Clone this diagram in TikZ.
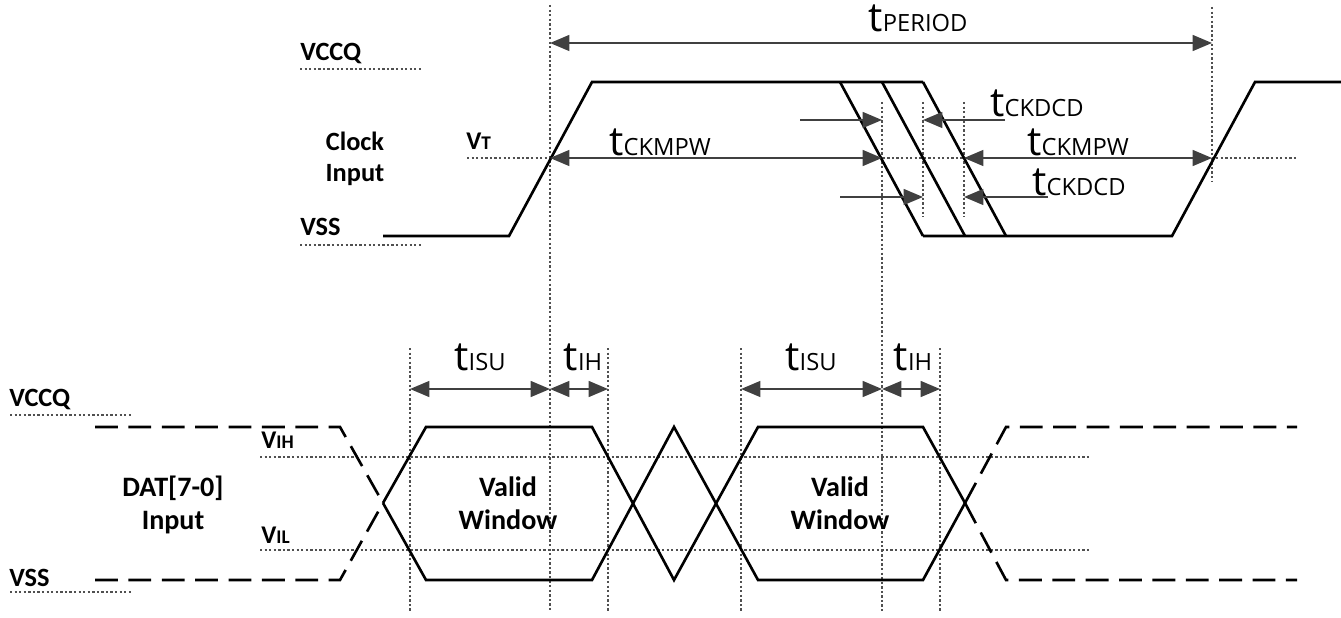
\documentclass[tikz,border=0pt]{standalone}
\usepackage{fontspec}
\setmainfont{Carlito}
\newfontfamily\tfont{Open Sans}
\usetikzlibrary{arrows.meta}

\definecolor{dimgray}{HTML}{404040}
\definecolor{guidegray}{HTML}{505050}

\newcommand{\tsub}[1]{{\tfont\fontsize{23}{23}\selectfont t\fontsize{13.5}{13.5}\selectfont #1}}
\newcommand{\vsub}[1]{{\bfseries\fontsize{14.5}{14.5}\selectfont V\fontsize{11}{11}\selectfont #1}}

\tikzset{
  sig/.style={line width=1.5pt},
  sigdash/.style={sig, dash pattern=on 13pt off 6pt},
  guide/.style={guidegray, line width=0.7pt, dash pattern=on 1.3pt off 1.3pt},
  dimarrow/.style={dimgray, line width=1.1pt, >={Triangle[length=11pt,width=9pt]}},
  lvl/.style={font=\bfseries\fontsize{15}{15}\selectfont, inner sep=0pt},
  tlbl/.style={inner sep=0pt}
}

\begin{document}
\begin{tikzpicture}[x=0.02cm,y=-0.02cm]
      \useasboundingbox (0,0) rectangle (1341,618);

      % guide lines
      \draw[guide] (300,69) -- (422,69);
      \draw[guide] (300,245) -- (422,245);
      \draw[guide] (467,158) -- (1298,158);
      \draw[guide] (10,415) -- (133,415);
      \draw[guide] (10,592) -- (133,592);
      \draw[guide] (260,457) -- (1090,457);
      \draw[guide] (260,550) -- (1090,550);
      \draw[guide] (550,5) -- (550,612);
      \draw[guide] (882,102) -- (882,612);
      \draw[guide] (1212,7) -- (1212,182);
      \foreach \x in {923,964} \draw[guide] (\x,102) -- (\x,217);
      \foreach \x in {410,608,741,940} \draw[guide] (\x,348) -- (\x,612);

      % clock input
      \draw[sig] (383,236) -- (509,236) -- (592,82) -- (923,82);
      \foreach \x in {840,882,923} \draw[sig] (\x,82) -- ++(83,154);
      \draw[sig] (923,236) -- (1172,236) -- (1255,82) -- (1341,82);

      % data input
      \draw[sigdash] (95,427) -- (340,427) -- (383,503);
      \draw[sigdash] (95,580) -- (340,580) -- (383,503);
      \draw[sig] (383,503) -- (426,427) -- (592,427) -- (674,580) -- (758,427) -- (923,427) -- (965,503);
      \draw[sig] (383,503) -- (426,580) -- (592,580) -- (674,427) -- (758,580) -- (923,580) -- (965,503);
      \draw[sigdash] (965,503) -- (1006,427) -- (1297,427);
      \draw[sigdash] (965,503) -- (1006,580) -- (1297,580);

      % arrow ends
      \coordinate (per0) at (550,43);
      \coordinate (per1) at (1212,43);
      \coordinate (pwa0) at (550,158);
      \coordinate (pwa1) at (882,158);
      \coordinate (pwb0) at (964,158);
      \coordinate (pwb1) at (1212,158);
      \coordinate (dca0) at (800,120);
      \coordinate (dca1) at (882,120);
      \coordinate (dca2) at (1005,120);
      \coordinate (dca3) at (923,120);
      \coordinate (dcb0) at (840,197);
      \coordinate (dcb1) at (923,197);
      \coordinate (dcb2) at (1048,197);
      \coordinate (dcb3) at (964,197);
      \coordinate (sua0) at (410,389);
      \coordinate (sua1) at (550,389);
      \coordinate (iha1) at (608,389);
      \coordinate (sub0) at (741,389);
      \coordinate (sub1) at (882,389);
      \coordinate (ihb1) at (940,389);

      \draw[dimarrow,<->] (per0) -- (per1);
      \draw[dimarrow,<->] (pwa0) -- (pwa1);
      \draw[dimarrow,<->] (pwb0) -- (pwb1);
      \draw[dimarrow,->] (dca0) -- (dca1);
      \draw[dimarrow,->] (dca2) -- (dca3);
      \draw[dimarrow,->] (dcb0) -- (dcb1);
      \draw[dimarrow,->] (dcb2) -- (dcb3);
      \draw[dimarrow,<->] (sua0) -- (sua1);
      \draw[dimarrow,<->] (sua1) -- (iha1);
      \draw[dimarrow,<->] (sub0) -- (sub1);
      \draw[dimarrow,<->] (sub1) -- (ihb1);

      % labels
      \node[lvl,anchor=west] (vccqa) at (300,54) {VCCQ};
      \node[lvl,anchor=west] (vssa) at (300,227) {VSS};
      \node[lvl,align=center] (clk) at (355,159) {Clock\\[3pt]Input};
      \node[tlbl,anchor=west] (vt) at (466,141) {\vsub{T}};
      \node[tlbl] (tper) at (918,18) {\tsub{PERIOD}};
      \node[tlbl] (tpwa) at (660,142) {\tsub{CKMPW}};
      \node[tlbl] (tpwb) at (1078,142) {\tsub{CKMPW}};
      \node[tlbl] (tdca) at (1037,103) {\tsub{CKDCD}};
      \node[tlbl] (tdcb) at (1079,182) {\tsub{CKDCD}};

      \node[lvl,anchor=west] (vccqb) at (9,400) {VCCQ};
      \node[lvl,anchor=west] (vssb) at (9,578) {VSS};
      \node[lvl,align=center,font=\bfseries\fontsize{16}{16}\selectfont] (dat) at (173,505) {DAT[7-0]\\[3pt]Input};
      \node[tlbl,anchor=west] (vih) at (261,440) {\vsub{IH}};
      \node[tlbl,anchor=west] (vil) at (261,535) {\vsub{IL}};
      \node[lvl,align=center,font=\bfseries\fontsize{16}{16}\selectfont] (wina) at (508,503) {Valid\\[3pt]Window};
      \node[lvl,align=center,font=\bfseries\fontsize{16}{16}\selectfont] (winb) at (840,503) {Valid\\[3pt]Window};
      \node[tlbl] (tsua) at (480,357) {\tsub{ISU}};
      \node[tlbl] (tiha) at (583,357) {\tsub{IH}};
      \node[tlbl] (tsub) at (811,357) {\tsub{ISU}};
      \node[tlbl] (tihb) at (913,357) {\tsub{IH}};
\end{tikzpicture}
\end{document}
